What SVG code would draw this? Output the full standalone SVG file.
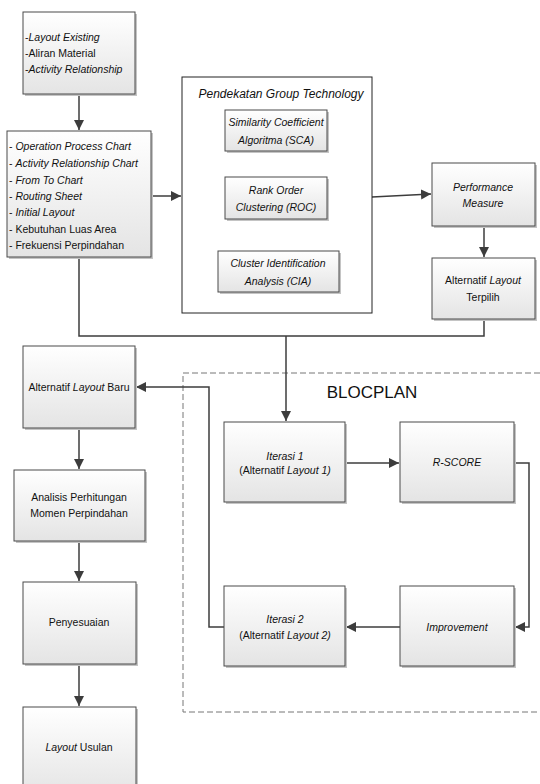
<svg xmlns="http://www.w3.org/2000/svg" width="540" height="784" viewBox="0 0 540 784">
<defs>
<linearGradient id="g" x1="0" y1="0" x2="0" y2="1">
<stop offset="0" stop-color="#ffffff"/>
<stop offset="1" stop-color="#e4e4e4"/>
</linearGradient>
<marker id="ah" markerUnits="userSpaceOnUse" markerWidth="12" markerHeight="12" refX="10" refY="5" orient="auto">
<path d="M0,0 L10,5 L0,10 Z" fill="#3c3c3c"/>
</marker>
<style>
.b{fill:url(#g);stroke:#4a4a4a;stroke-width:1}
.sh{fill:#c4c4c4}
.t{font-family:"Liberation Sans",Arial,sans-serif;font-size:10.5px;fill:#111}
.c{text-anchor:middle}
.i{font-style:italic}
.cn{fill:none;stroke:#3c3c3c;stroke-width:1.5}
</style>
</defs>
<rect width="540" height="784" fill="#fff"/>

<g id="blocplan">
<path d="M540,373 H183 V712 H540" fill="none" stroke="#777" stroke-width="1" stroke-dasharray="6,3"/>
<text x="372" y="398" class="t c" style="font-size:17px">BLOCPLAN</text>
</g>

<g id="connectors">
<path class="cn" d="M79,94 V130" marker-end="url(#ah)"/>
<path class="cn" d="M151,196 H181" marker-end="url(#ah)"/>
<path class="cn" d="M372,197 L431,194" marker-end="url(#ah)"/>
<path class="cn" d="M484,226 V257" marker-end="url(#ah)"/>
<path class="cn" d="M79,257 V336 H484 V319"/>
<path class="cn" d="M286,336 V421" marker-end="url(#ah)"/>
<path class="cn" d="M345,463 H399" marker-end="url(#ah)"/>
<path class="cn" d="M514,463 H529 V627 H515" marker-end="url(#ah)"/>
<path class="cn" d="M400,627 H346" marker-end="url(#ah)"/>
<path class="cn" d="M224,627 H209 V387 H136" marker-end="url(#ah)"/>
<path class="cn" d="M79,428 V469" marker-end="url(#ah)"/>
<path class="cn" d="M79,541 V581" marker-end="url(#ah)"/>
<path class="cn" d="M79,664 V706" marker-end="url(#ah)"/>
</g>

<g id="n-input">
<rect class="sh" x="25" y="14" width="112" height="82"/>
<rect class="b" x="23" y="12" width="112" height="82"/>
<text class="t" x="25" y="41">-<tspan class="i">Layout Existing</tspan></text>
<text class="t" x="25" y="57">-Aliran Material</text>
<text class="t" x="25" y="73">-<tspan class="i">Activity Relationship</tspan></text>
</g>

<g id="n-data">
<rect class="sh" x="9" y="133" width="144" height="126"/>
<rect class="b" x="7" y="131" width="144" height="126"/>
<text class="t" x="9" y="150">- <tspan class="i">Operation Process Chart</tspan></text>
<text class="t" x="9" y="167">- <tspan class="i">Activity Relationship  Chart</tspan></text>
<text class="t" x="9" y="184">- <tspan class="i">From To Chart</tspan></text>
<text class="t" x="9" y="200">- <tspan class="i">Routing Sheet</tspan></text>
<text class="t" x="9" y="216">- <tspan class="i">Initial Layout</tspan></text>
<text class="t" x="9" y="233">- Kebutuhan Luas Area</text>
<text class="t" x="9" y="249">- Frekuensi Perpindahan</text>
</g>

<g id="n-gt">
<rect x="182" y="77" width="190" height="236" fill="#fff" stroke="#222" stroke-width="1"/>
<text class="t c i" x="281" y="98" style="font-size:12px">Pendekatan Group Technology</text>
</g>

<g id="n-sca">
<rect class="sh" x="227" y="112" width="102" height="41"/>
<rect class="b" x="225" y="110" width="102" height="41"/>
<text class="t c i" x="276" y="126">Similarity Coefficient</text>
<text class="t c i" x="276" y="144">Algoritma (SCA)</text>
</g>

<g id="n-roc">
<rect class="sh" x="227" y="179" width="102" height="42"/>
<rect class="b" x="225" y="177" width="102" height="42"/>
<text class="t c i" x="276" y="194">Rank Order</text>
<text class="t c i" x="276" y="211">Clustering (ROC)</text>
</g>

<g id="n-cia">
<rect class="sh" x="220" y="253" width="121" height="41"/>
<rect class="b" x="218" y="251" width="121" height="41"/>
<text class="t c i" x="278" y="267">Cluster Identification</text>
<text class="t c i" x="278" y="285">Analysis (CIA)</text>
</g>

<g id="n-pm">
<rect class="sh" x="434" y="165" width="103" height="63"/>
<rect class="b" x="432" y="163" width="103" height="63"/>
<text class="t c i" x="483" y="191">Performance</text>
<text class="t c i" x="483" y="207">Measure</text>
</g>

<g id="n-terpilih">
<rect class="sh" x="434" y="260" width="103" height="61"/>
<rect class="b" x="432" y="258" width="103" height="61"/>
<text class="t c" x="483" y="284">Alternatif <tspan class="i">Layout</tspan></text>
<text class="t c" x="483" y="301">Terpilih</text>
</g>

<g id="n-baru">
<rect class="sh" x="25" y="348" width="112" height="82"/>
<rect class="b" x="23" y="346" width="112" height="82"/>
<text class="t c" x="79" y="391">Alternatif <tspan class="i">Layout</tspan> Baru</text>
</g>

<g id="n-analisis">
<rect class="sh" x="16" y="472" width="131" height="71"/>
<rect class="b" x="14" y="470" width="131" height="71"/>
<text class="t c" x="79" y="501">Analisis Perhitungan</text>
<text class="t c" x="79" y="517">Momen Perpindahan</text>
</g>

<g id="n-penyesuaian">
<rect class="sh" x="25" y="584" width="113" height="82"/>
<rect class="b" x="23" y="582" width="113" height="82"/>
<text class="t c" x="79" y="626">Penyesuaian</text>
</g>

<g id="n-usulan">
<rect class="sh" x="25" y="709" width="113" height="90"/>
<rect class="b" x="23" y="707" width="113" height="90"/>
<text class="t c" x="79" y="751"><tspan class="i">Layout</tspan> Usulan</text>
</g>

<g id="n-iter1">
<rect class="sh" x="226" y="424" width="121" height="80"/>
<rect class="b" x="224" y="422" width="121" height="80"/>
<text class="t c i" x="285" y="460">Iterasi 1</text>
<text class="t c" x="285" y="474">(Alternatif <tspan class="i">Layout  1)</tspan></text>
</g>

<g id="n-rscore">
<rect class="sh" x="402" y="424" width="114" height="80"/>
<rect class="b" x="400" y="422" width="114" height="80"/>
<text class="t c i" x="457" y="466">R-SCORE</text>
</g>

<g id="n-improvement">
<rect class="sh" x="402" y="588" width="114" height="80"/>
<rect class="b" x="400" y="586" width="114" height="80"/>
<text class="t c i" x="457" y="631">Improvement</text>
</g>

<g id="n-iter2">
<rect class="sh" x="226" y="588" width="121" height="80"/>
<rect class="b" x="224" y="586" width="121" height="80"/>
<text class="t c i" x="285" y="623">Iterasi 2</text>
<text class="t c" x="285" y="639">(Alternatif <tspan class="i">Layout  2)</tspan></text>
</g>
</svg>
